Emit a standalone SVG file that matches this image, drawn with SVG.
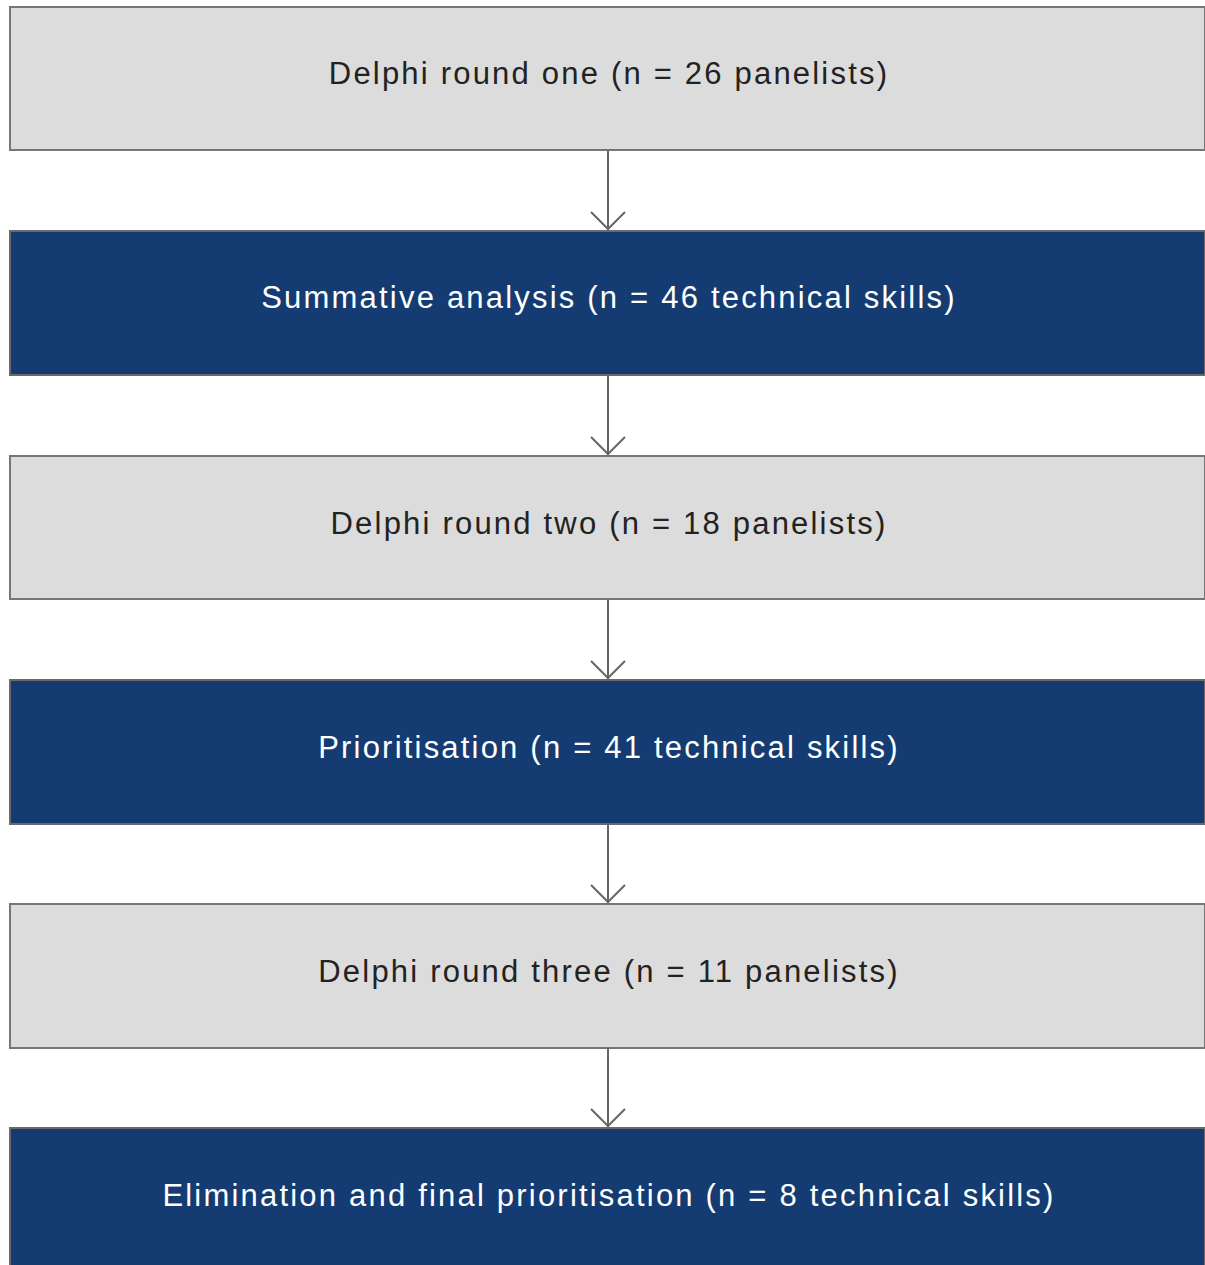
<svg xmlns="http://www.w3.org/2000/svg" width="1205" height="1265" viewBox="0 0 1205 1265">
<style>
.g{fill:#dcdcdc;stroke:#767676;stroke-width:2}
.b{fill:#143c72;stroke:#6a6a6a;stroke-width:2}
.t{font-family:"Liberation Sans",Arial,sans-serif;font-size:31px;letter-spacing:2.2px;text-anchor:middle}
.tg{fill:#222}
.tb{fill:#ffffff}
.c{stroke:#666;stroke-width:2;fill:none}
</style>
<rect width="1205" height="1265" fill="#fff"/>
<g id="n1"><rect class="g" x="10" y="7" width="1195" height="143"/><text class="t tg" x="609" y="84">Delphi round one (n = 26 panelists)</text></g>
<g id="n2"><rect class="b" x="10" y="231" width="1195" height="144"/><text class="t tb" x="609" y="308">Summative analysis (n = 46 technical skills)</text></g>
<g id="n3"><rect class="g" x="10" y="456" width="1195" height="143"/><text class="t tg" x="609" y="534">Delphi round two (n = 18 panelists)</text></g>
<g id="n4"><rect class="b" x="10" y="680" width="1195" height="144"/><text class="t tb" x="609" y="758">Prioritisation (n = 41 technical skills)</text></g>
<g id="n5"><rect class="g" x="10" y="904" width="1195" height="144"/><text class="t tg" x="609" y="982">Delphi round three (n = 11 panelists)</text></g>
<g id="n6"><rect class="b" x="10" y="1128" width="1195" height="140"/><text class="t tb" x="609" y="1206">Elimination and final prioritisation (n = 8 technical skills)</text></g>
<g id="connectors">
<path class="c" d="M608 150V230M591 212L608 229L625 212"/>
<path class="c" d="M608 375V455M591 437L608 454L625 437"/>
<path class="c" d="M608 599V679M591 661L608 678L625 661"/>
<path class="c" d="M608 824V903M591 885L608 902L625 885"/>
<path class="c" d="M608 1048V1127M591 1109L608 1126L625 1109"/>
</g>
</svg>
